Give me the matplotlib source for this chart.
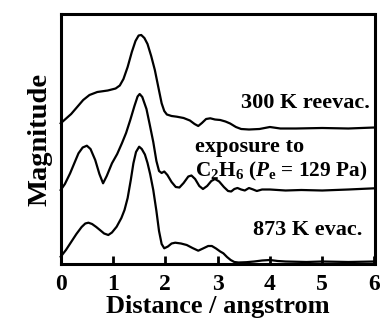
import matplotlib
matplotlib.use("Agg")
import matplotlib.pyplot as plt

# ---- data ----
R_300 = [0.0, 0.2, 0.43, 0.55, 0.7, 0.9, 1.05, 1.13, 1.2, 1.28, 1.36, 1.43, 1.49, 1.54, 1.6,
         1.66, 1.73, 1.8, 1.87, 1.93, 1.98, 2.03, 2.12, 2.22, 2.35, 2.47, 2.56, 2.63, 2.7,
         2.78, 2.86, 2.95, 3.05, 3.15, 3.24, 3.35, 3.45, 3.6, 3.8, 4.0, 4.2, 4.5, 5.0, 5.5, 6.0]
M_300 = [140.7, 150, 164, 169, 172, 173.5, 175.5, 178.5, 185, 197, 212, 223, 228.5, 229, 226,
         220, 208, 194, 176, 160.7, 153, 149.5, 148, 147.3, 146, 143.5, 140, 138, 141,
         145, 145.7, 144.5, 144, 142.5, 140.5, 137, 135, 134.5, 135, 137, 135.5, 135.5, 136, 135.5, 136.5]

R_C2H6 = [0.0, 0.08, 0.18, 0.27, 0.34, 0.42, 0.50, 0.57, 0.66, 0.74, 0.81, 0.88, 0.98, 1.08,
          1.17, 1.25, 1.33, 1.41, 1.47, 1.51, 1.56, 1.64, 1.70, 1.77, 1.83, 1.88, 1.93, 1.98,
          2.04, 2.12, 2.2, 2.27, 2.35, 2.44, 2.5, 2.57, 2.65, 2.72, 2.8, 2.88, 2.95, 3.03,
          3.12, 3.2, 3.26, 3.32, 3.38, 3.45, 3.52, 3.6, 3.68, 3.75, 3.85, 4.0, 4.3, 4.6, 5.0, 5.5, 6.0]
M_C2H6 = [74, 80, 90.7, 102, 110.7, 116.5, 118.3, 115, 104, 90, 80.7, 88, 100.7, 110,
          120.7, 131, 144, 158, 167.5, 170, 167, 155, 140, 122, 103, 93, 91, 92.5,
          89, 82, 77, 76.5, 81, 87.5, 88.5, 85, 78, 75, 78, 83, 85, 82.5,
          77, 73, 72.5, 75, 76, 74.5, 73.5, 76, 74.5, 73, 74.5, 74.5, 73.5, 74, 73.5, 74.5, 75.7]

R_873 = [0.0, 0.1, 0.2, 0.3, 0.4, 0.47, 0.53, 0.6, 0.68, 0.75, 0.83, 0.91, 0.98, 1.07, 1.16,
         1.22, 1.28, 1.34, 1.39, 1.44, 1.50, 1.55, 1.61, 1.66, 1.71, 1.77, 1.83, 1.88, 1.93,
         1.98, 2.05, 2.12, 2.19, 2.3, 2.41, 2.52, 2.63, 2.72, 2.82, 2.89, 2.97, 3.05, 3.11,
         3.18, 3.25, 3.32, 3.4, 3.55, 3.7, 3.85, 4.0, 4.15, 4.3, 4.7, 5.0, 5.5, 6.0]
M_873 = [7.3, 14, 22, 30, 37, 40.5, 41.3, 40, 37, 34, 30.5, 29, 31.5, 37.3, 46,
         54, 66, 84, 100.7, 112, 117.3, 115, 109.5, 101, 90, 74, 53, 33, 20,
         15.7, 17.5, 20.5, 21.3, 20.5, 19, 16, 13.3, 15.5, 18, 18, 15.5, 12.5, 10.7,
         7, 4, 2, 1.5, 1.8, 2.5, 3.5, 4, 3, 2.5, 2, 2.5, 2, 2.5]

x_ticks = [0, 1, 2, 3, 4, 5, 6]
label_300 = "300 K reevac."
label_exp1 = "exposure to"
label_exp2 = r"C$_{2}$H$_{6}$ ($\mathit{P}_{\mathrm{e}}$ = 129 Pa)"
label_873 = "873 K evac."
xlabel = "Distance / angstrom"
ylabel = "Magnitude"

# ---- style ----
plt.rcParams['font.family'] = ['Liberation Serif', 'DejaVu Serif']
plt.rcParams['font.weight'] = 'bold'
plt.rcParams['mathtext.fontset'] = 'custom'
plt.rcParams['mathtext.rm'] = 'Liberation Serif:bold'
plt.rcParams['mathtext.bf'] = 'Liberation Serif:bold'
plt.rcParams['mathtext.it'] = 'Liberation Serif:italic:bold'

fig = plt.figure(figsize=(3.84, 3.27), dpi=100)
ax = fig.add_axes([60.7 / 384, 1 - 264 / 327, (374.5 - 60.7) / 384, (264 - 14) / 327])

lw = 1.6
for R, M in [(R_300, M_300), (R_C2H6, M_C2H6), (R_873, M_873)]:
    ax.plot(R, M, color='black', lw=lw, solid_joinstyle='round', clip_on=False)

ax.set_xlim(0, 6)
ax.set_ylim(0, 250)
ax.set_xticks(x_ticks)
ax.set_xticklabels([str(t) for t in x_ticks])
ax.set_yticks([])
ax.tick_params(axis='x', direction='in', length=5.5, width=2, pad=7, labelsize=17)
for s in ax.spines.values():
    s.set_linewidth(2.2)

ax.set_xlabel(xlabel, fontsize=19, fontweight='bold', labelpad=0)
ax.set_ylabel(ylabel, fontsize=20.5, fontweight='bold', labelpad=6)

fs = 16
ax.text(5.91, 155.7, label_300, ha='right', va='baseline', fontsize=fs, fontweight='bold')
ax.text(2.57, 112.3, label_exp1, ha='left', va='baseline', fontsize=fs, fontweight='bold')
ax.text(2.57, 87.3, label_exp2, ha='left', va='baseline', fontsize=15.3, fontweight='bold')
ax.text(5.76, 29, label_873, ha='right', va='baseline', fontsize=fs, fontweight='bold')

fig.savefig("out.png", dpi=100)
